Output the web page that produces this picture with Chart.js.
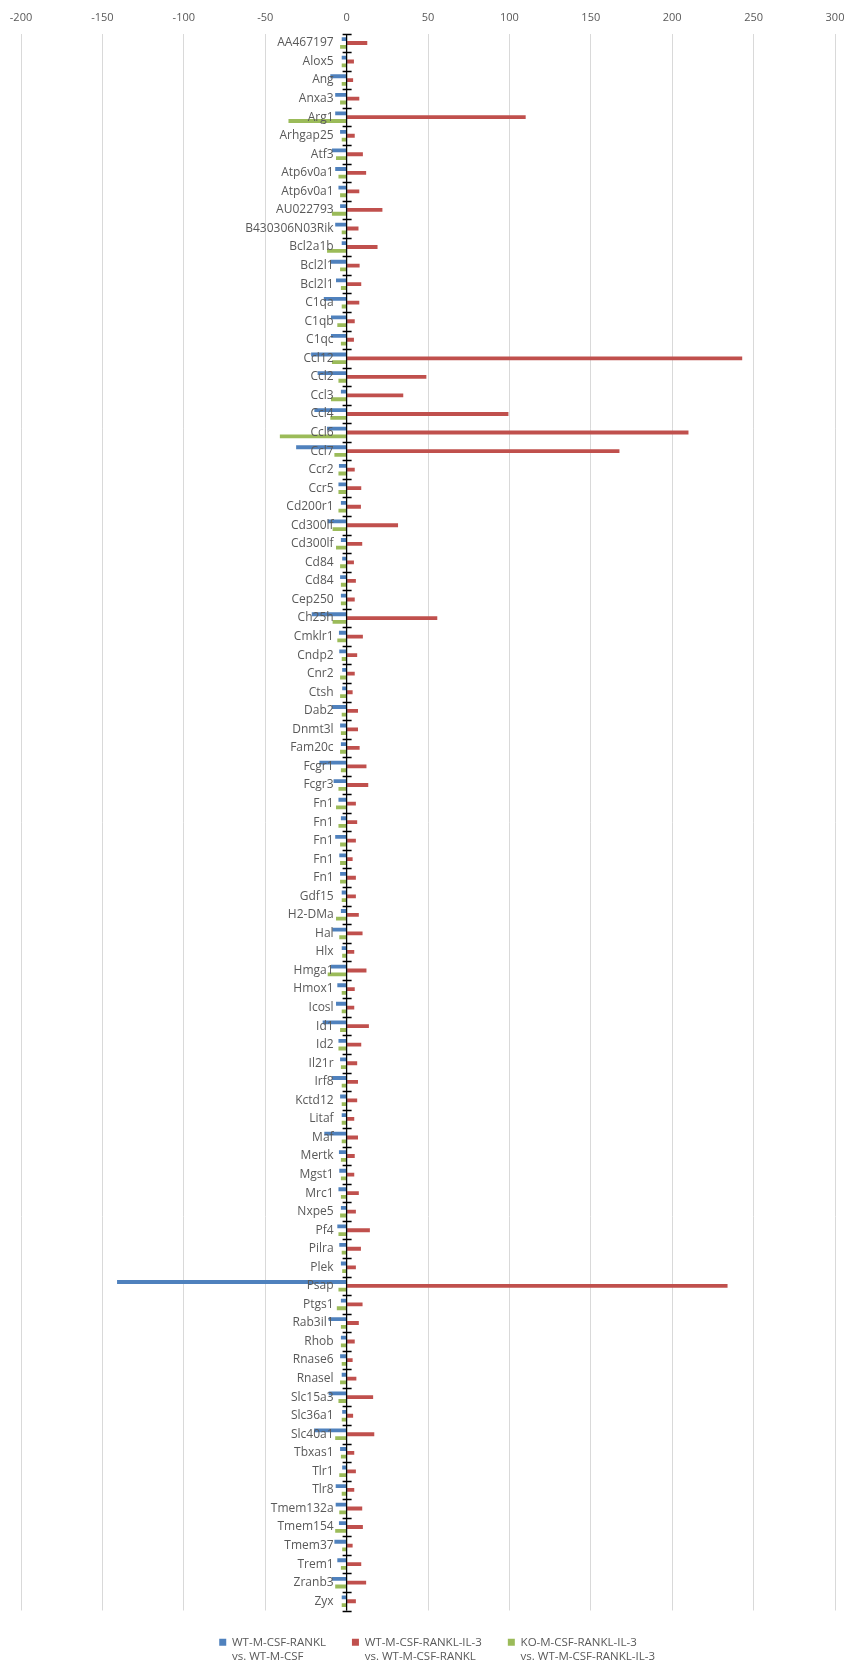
<!DOCTYPE html>
<html>
<head>
<meta charset="utf-8">
<title>Gene expression changes</title>
<script src="https://cdn.jsdelivr.net/npm/chart.js@4.4.1/dist/chart.umd.min.js"></script>
<style>
  html, body { margin: 0; padding: 0; background: #fff; }
  .chart-box { width: 850px; height: 1666px; position: relative; }
</style>
</head>
<body>
<div class="chart-box"><canvas id="myChart"></canvas></div>
<script>
var genes = ['AA467197', 'Alox5', 'Ang', 'Anxa3', 'Arg1', 'Arhgap25', 'Atf3', 'Atp6v0a1', 'Atp6v0a1', 'AU022793',
    'B430306N03Rik', 'Bcl2a1b', 'Bcl2l1', 'Bcl2l1', 'C1qa', 'C1qb', 'C1qc', 'Ccl12', 'Ccl2', 'Ccl3',
    'Ccl4', 'Ccl6', 'Ccl7', 'Ccr2', 'Ccr5', 'Cd200r1', 'Cd300lf', 'Cd300lf', 'Cd84', 'Cd84',
    'Cep250', 'Ch25h', 'Cmklr1', 'Cndp2', 'Cnr2', 'Ctsh', 'Dab2', 'Dnmt3l', 'Fam20c', 'Fcgr1',
    'Fcgr3', 'Fn1', 'Fn1', 'Fn1', 'Fn1', 'Fn1', 'Gdf15', 'H2-DMa', 'Hal', 'Hlx',
    'Hmga1', 'Hmox1', 'Icosl', 'Id1', 'Id2', 'Il21r', 'Irf8', 'Kctd12', 'Litaf', 'Maf',
    'Mertk', 'Mgst1', 'Mrc1', 'Nxpe5', 'Pf4', 'Pilra', 'Plek', 'Psap', 'Ptgs1', 'Rab3il1',
    'Rhob', 'Rnase6', 'Rnasel', 'Slc15a3', 'Slc36a1', 'Slc40a1', 'Tbxas1', 'Tlr1', 'Tlr8', 'Tmem132a',
    'Tmem154', 'Tmem37', 'Trem1', 'Zranb3', 'Zyx'];

// WT-M-CSF-RANKL vs. WT-M-CSF
var wtRankl = [-3, -3, -10, -7, -7, -4, -9, -7, -5, -4,
    -7, -3, -10, -6.5, -14, -9.6, -9.6, -21.8, -17.8, -3.5,
    -19.8, -12, -31, -4.7, -5, -3.5, -11.6, -3.5, -2.7, -4,
    -3.5, -21.4, -4.7, -4.5, -2.7, -2.7, -9, -4, -3.5, -16.7,
    -8, -5, -3.5, -7, -4.5, -4, -3, -3.5, -8.8, -3,
    -9.6, -5.7, -6.5, -14.7, -5, -4, -9, -4, -3, -13.7,
    -4.7, -4.5, -5, -3.5, -5.7, -4.5, -3.5, -141, -3.5, -11,
    -3.5, -4, -3, -11, -2.7, -20, -4, -2.7, -6.7, -6.7,
    -4.7, -7.5, -5.7, -9, -3];

// WT-M-CSF-RANKL-IL-3 vs. WT-M-CSF-RANKL
var wtIl3 = [12.7, 4.5, 4, 7.8, 110, 5, 10, 12, 7.8, 22,
    7.3, 19, 8, 9, 7.8, 5, 4.5, 243, 49, 34.8,
    99.4, 210, 167.6, 5, 9, 8.8, 31.6, 9.6, 4.5, 5.7,
    5, 55.7, 10, 6.5, 5, 3.7, 7, 7, 8, 12.2,
    13.3, 5.7, 6.5, 5.7, 3.7, 5.7, 5.7, 7.5, 9.8, 4.7,
    12.2, 5, 4.7, 13.7, 9, 6.5, 7, 6.5, 4.7, 7,
    5, 4.7, 7.5, 5.7, 14.3, 8.8, 5.7, 234, 9.8, 7.5,
    5, 3.7, 6, 16.3, 4, 17, 4.7, 5.7, 4.7, 9.6,
    10, 3.7, 9, 12, 5.7];

// KO-M-CSF-RANKL-IL-3 vs. WT-M-CSF-RANKL-IL-3
var koIl3 = [-4, -3, -3, -4, -35.7, -3, -6.5, -5, -4, -9,
    -3, -12, -4, -3.5, -3, -5.7, -3.5, -9, -5, -9.6,
    -10, -41, -7.5, -5, -5, -5, -8.6, -6.5, -4, -3.5,
    -3.5, -8.6, -5.7, -3, -4, -4, -3, -3.5, -4, -3.5,
    -5, -6.5, -5, -4, -4, -4, -3, -6.5, -4.5, -2.7,
    -11.6, -3, -3, -4, -5, -3.5, -3, -3, -3, -3,
    -3.5, -3.5, -3.5, -4, -5, -3, -2.7, -5, -6, -3.5,
    -3.5, -3, -4, -5, -3, -7, -3.5, -4.5, -3, -4.5,
    -7, -2.7, -3.5, -7, -3];

var seriesNames = ['WT-M-CSF-RANKL', 'WT-M-CSF-RANKL-IL-3', 'KO-M-CSF-RANKL-IL-3'];
var seriesBaselines = ['vs. WT-M-CSF', 'vs. WT-M-CSF-RANKL', 'vs. WT-M-CSF-RANKL-IL-3'];

var xMin = -200, xMax = 300, xStep = 50;

var textGray = '#595959';
var legendFont = { family: 'Open Sans', size: 11.5, lineHeight: 1.22 };

// gene names sit next to the zero line, with a black axis and cross tick marks
var zeroAxis = {
    id: 'zeroAxis',
    afterDatasetsDraw: function (chart) {
        var ctx = chart.ctx;
        var x = chart.scales.x, y = chart.scales.y;
        var x0 = x.getPixelForValue(0);
        var area = chart.chartArea;
        var half = (y.getPixelForValue(1) - y.getPixelForValue(0)) / 2;

        ctx.save();
        ctx.strokeStyle = '#000';
        ctx.lineWidth = 1.3;
        ctx.beginPath();
        ctx.moveTo(x0, area.top);
        ctx.lineTo(x0, area.bottom);
        for (var i = 0; i <= genes.length; i++) {
            var ty = Math.round(y.getPixelForValue(i) - half) + 0.5;
            ctx.moveTo(x0 - 4, ty);
            ctx.lineTo(x0 + 5, ty);
        }
        ctx.stroke();

        ctx.fillStyle = textGray;
        ctx.font = '12px "Open Sans"';
        ctx.textAlign = 'right';
        ctx.textBaseline = 'middle';
        genes.forEach(function (g, i) {
            ctx.fillText(g, x0 - 13, y.getPixelForValue(i));
        });
        ctx.restore();
    }
};

// second line of each legend entry ("vs. ...") under the series name
var legendSubline = {
    id: 'legendSubline',
    afterDraw: function (chart) {
        var legend = chart.legend;
        if (!legend || !legend.legendHitBoxes) return;
        var ctx = chart.ctx;
        var lh = legendFont.size * legendFont.lineHeight;
        var boxW = legend.options.labels.boxWidth;
        ctx.save();
        ctx.fillStyle = textGray;
        ctx.font = legendFont.size + 'px "' + legendFont.family + '"';
        ctx.textAlign = 'left';
        ctx.textBaseline = 'middle';
        legend.legendHitBoxes.forEach(function (hb, i) {
            ctx.fillText(seriesBaselines[i], hb.left + boxW + legendFont.size / 2, hb.top + hb.height / 2 + lh);
        });
        ctx.restore();
    }
};

var ctx = document.getElementById('myChart').getContext('2d');
var myChart = new Chart(ctx, {
    type: 'bar',
    data: {
        labels: genes,
        datasets: [{
            label: seriesNames[0],
            data: wtRankl,
            backgroundColor: '#4f81bd'
        }, {
            label: seriesNames[1],
            data: wtIl3,
            backgroundColor: '#c0504d'
        }, {
            label: seriesNames[2],
            data: koIl3,
            backgroundColor: '#9bbb59'
        }]
    },
    options: {
        indexAxis: 'y',
        responsive: true,
        maintainAspectRatio: false,
        animation: false,
        categoryPercentage: 0.62,
        barPercentage: 1.0,
        layout: {
            padding: { top: 2.5, left: 21, right: 15, bottom: 8 }
        },
        scales: {
            x: {
                position: 'top',
                min: xMin,
                max: xMax,
                ticks: {
                    stepSize: xStep,
                    padding: 9,
                    color: textGray,
                    font: { family: 'Open Sans', size: 11 }
                },
                grid: {
                    color: '#d9d9d9',
                    drawTicks: false
                },
                border: { display: false },
                // the end labels may hang over the plot edge, don't shrink the plot for them
                afterFit: function (scale) {
                    scale.paddingLeft = 0;
                    scale.paddingRight = 0;
                }
            },
            y: {
                display: false
            }
        },
        plugins: {
            legend: {
                position: 'bottom',
                labels: {
                    boxWidth: 7,
                    boxHeight: 7,
                    padding: 26,
                    color: textGray,
                    font: legendFont
                }
            },
            tooltip: { enabled: false }
        }
    },
    plugins: [zeroAxis, legendSubline]
});
</script>
</body>
</html>
